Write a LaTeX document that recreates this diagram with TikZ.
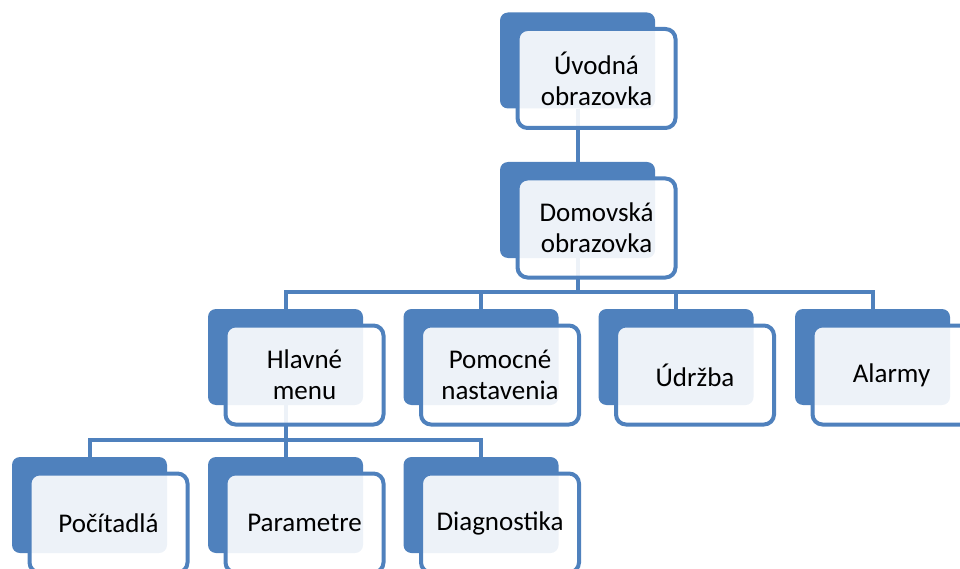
\documentclass[tikz,border=0pt]{standalone}
\usepackage{fontspec}
\setmainfont{Carlito}
\definecolor{accblue}{HTML}{4F81BD}
\pgfdeclarelayer{bg}
\pgfsetlayers{bg,main}
\begin{document}
\begin{tikzpicture}[x=1pt,y=-1pt,
  backbox/.style={fill=accblue, draw=none, rounded corners=8pt, minimum width=155pt, minimum height=96pt, inner sep=0pt},
  frontbox/.style={draw=accblue, line width=4pt, fill=white, fill opacity=0.9, text opacity=1, rounded corners=10pt, minimum width=158pt, minimum height=99pt, inner sep=0pt, align=center, font=\fontsize{27}{31}\selectfont},
  conn/.style={draw=accblue, line width=4pt}]
\clip (0,0) rectangle (960,569);
% back boxes
\node[backbox] (b1) at (577.5,60.5) {};
\node[backbox] (b2) at (577.5,210) {};
\node[backbox] (b3) at (285.5,357) {};
\node[backbox] (b4) at (481,357) {};
\node[backbox] (b5) at (676,357) {};
\node[backbox] (b6) at (872.5,357) {};
\node[backbox] (b7) at (89.5,505) {};
\node[backbox] (b8) at (285.5,505) {};
\node[backbox] (b9) at (481,505) {};
% front boxes
\node[frontbox] (f1) at ([shift={(19,18)}]b1.center) {Úvodná\\obrazovka};
\node[frontbox] (f2) at ([shift={(19,18)}]b2.center) {Domovská\\obrazovka};
\node[frontbox] (f3) at ([shift={(19,18)}]b3.center) {Hlavné\\menu};
\node[frontbox] (f4) at ([shift={(19,18)}]b4.center) {Pomocné\\nastavenia};
\node[frontbox] (f5) at ([shift={(19,18)}]b5.center) {Údržba};
\node[frontbox] (f6) at ([shift={(19,18)}]b6.center) {Alarmy};
\node[frontbox] (f7) at ([shift={(19,18)}]b7.center) {Počítadlá};
\node[frontbox] (f8) at ([shift={(19,18)}]b8.center) {Parametre};
\node[frontbox] (f9) at ([shift={(19,18)}]b9.center) {Diagnostika};
\begin{pgfonlayer}{bg}
\coordinate (bar1) at (0,292);
\coordinate (bar2) at (0,440);
\draw[conn] (b1.south) -- (b2.north);
\draw[conn] (b2.south) -- (b2.south |- bar1);
\draw[conn] (b3.north) -- (b3.north |- bar1) -- (b6.north |- bar1) -- (b6.north);
\draw[conn] (b4.north) -- (b4.north |- bar1);
\draw[conn] (b5.north) -- (b5.north |- bar1);
\draw[conn] (b3.south) -- (b3.south |- bar2);
\draw[conn] (b7.north) -- (b7.north |- bar2) -- (b9.north |- bar2) -- (b9.north);
\draw[conn] (b8.north) -- (b8.north |- bar2);
\end{pgfonlayer}
\end{tikzpicture}
\end{document}
